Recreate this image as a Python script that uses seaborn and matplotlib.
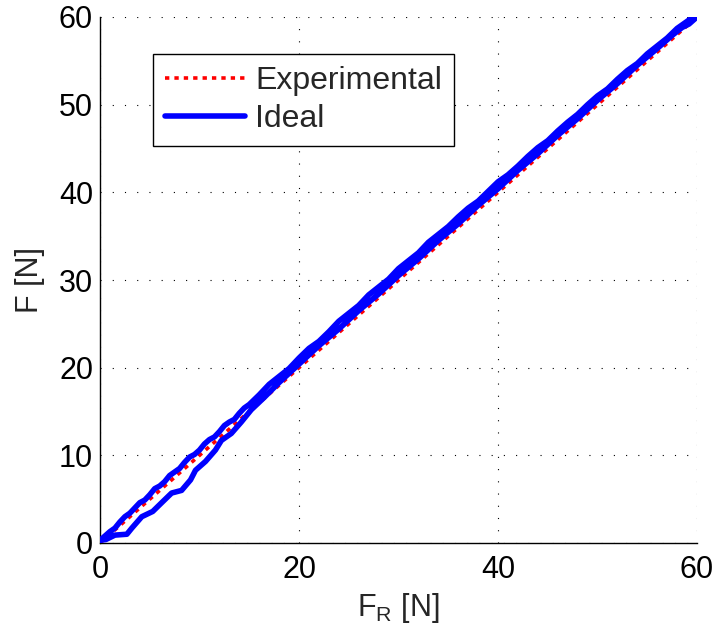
import numpy as np
import pandas as pd
import matplotlib
matplotlib.use("Agg")
import matplotlib.pyplot as plt
import seaborn as sns

# Experimental (reference diagonal)
exp_x = [0, 60]
exp_y = [0, 60]

# Ideal: measured loop (loading branch, then unloading branch)
ideal_x = [0.0, 0.5, 1.0, 1.5, 2.0, 2.5, 3.0, 3.5, 4.0, 4.5, 5.0, 5.5, 6.0, 6.5, 7.0,
           7.5, 8.0, 8.5, 9.0, 9.5, 10.0, 10.5, 11.0, 11.5, 12.0, 12.5, 13.0, 13.5,
           14.0, 14.5, 15.0, 16.0, 17.0, 18.0, 19.0, 20.0, 21.0, 22.0, 23.0, 24.0,
           25.0, 26.0, 27.0, 28.0, 29.0, 30.0, 31.0, 32.0, 33.0, 34.0, 35.0, 36.0,
           37.0, 38.0, 39.0, 40.0, 41.0, 42.0, 43.0, 44.0, 45.0, 46.0, 47.0, 48.0,
           49.0, 50.0, 51.0, 52.0, 53.0, 54.0, 55.0, 56.0, 57.0, 58.0, 59.0, 59.6, 60.0,
           # unloading
           59.8, 59.2, 58.5, 57.5, 56.0, 54.0, 52.0, 50.0, 48.0, 46.0, 44.0, 42.0,
           40.0, 38.0, 36.0, 34.0, 32.0, 30.0, 28.0, 26.0, 24.0, 22.0, 20.0, 18.0,
           16.5, 15.2, 14.2, 13.2, 12.2, 11.6, 10.6, 9.6, 9.1, 8.2, 7.2, 6.2, 5.3,
           4.2, 3.2, 2.7, 1.5, 0.6, 0.0]
ideal_y = [0.3, 0.8, 1.3, 1.7, 2.4, 3.0, 3.4, 4.0, 4.6, 4.9, 5.5, 6.2, 6.5, 7.0, 7.7,
           8.1, 8.5, 9.2, 9.8, 10.1, 10.6, 11.3, 11.8, 12.1, 12.7, 13.4, 13.8, 14.1,
           14.8, 15.4, 15.8, 16.9, 18.1, 19.0, 19.9, 21.1, 22.2, 23.0, 24.1, 25.3,
           26.2, 27.1, 28.3, 29.2, 30.1, 31.3, 32.2, 33.1, 34.3, 35.2, 36.1, 37.2,
           38.2, 39.0, 40.1, 41.2, 42.0, 43.0, 44.1, 45.1, 45.9, 47.0, 48.0, 48.9,
           50.0, 51.0, 51.8, 52.9, 53.9, 54.7, 55.8, 56.7, 57.6, 58.7, 59.5, 60.0, 60.3,
           59.8, 59.2, 58.8, 57.9, 56.4, 54.5, 52.4, 50.5, 48.4, 46.5, 44.4, 42.5,
           40.4, 38.5, 36.4, 34.5, 32.4, 30.5, 28.4, 26.5, 24.4, 22.5, 20.4, 18.3,
           16.6, 15.2, 13.8, 12.5, 11.7, 10.6, 9.3, 8.3, 7.2, 6.0, 5.7, 4.6, 3.6,
           3.0, 1.7, 1.0, 0.9, 0.4, 0.3]

x_ticks = [0, 20, 40, 60]
y_ticks = [0, 10, 20, 30, 40, 50, 60]

sns.set_style("white")
plt.rcParams['font.family'] = ['Liberation Sans', 'DejaVu Sans']
plt.rcParams['mathtext.fontset'] = 'custom'
plt.rcParams['mathtext.rm'] = 'Liberation Sans'

fig = plt.figure(figsize=(7.17, 6.36), dpi=100)
ax = fig.add_axes([100/717, 93/636, 597/717, 526/636])

df_exp = pd.DataFrame({"x": exp_x, "y": exp_y})
df_ideal = pd.DataFrame({"x": ideal_x, "y": ideal_y})

sns.lineplot(data=df_exp, x="x", y="y", ax=ax, color="#ff0000", lw=2.6,
             linestyle=(0, (1.2, 1.4)), label="Experimental", zorder=3)
sns.lineplot(data=df_ideal, x="x", y="y", ax=ax, color="#0000ff", lw=4.0,
             sort=False, estimator=None, label="Ideal", zorder=4)

ax.set_xlim(0, 60)
ax.set_ylim(0, 60)
ax.set_xticks(x_ticks)
ax.set_yticks(y_ticks)
ax.tick_params(direction="in", length=5, width=0.8, labelsize=22,
               colors="black")
ax.tick_params(axis="x", pad=9)
ax.tick_params(axis="y", pad=5)
ax.grid(True, color="black", linestyle=(0, (1, 10)), linewidth=0.8)
for s in ["top", "right"]:
    ax.spines[s].set_visible(False)
for s in ["left", "bottom"]:
    ax.spines[s].set_color("black")
    ax.spines[s].set_linewidth(1.0)

ax.set_xlabel(r"F$_\mathregular{R}$ [N]", fontsize=22, labelpad=4)
ax.set_ylabel("F [N]", fontsize=22, labelpad=10)

leg = ax.legend(loc="upper left", bbox_to_anchor=(53/597, 489/526),
                fontsize=23, handlelength=2.5, handletextpad=0.31,
                borderpad=0.38, borderaxespad=0, labelspacing=0.25,
                fancybox=False, framealpha=1, edgecolor="black")
leg.get_frame().set_linewidth(1.0)

fig.savefig("out.png", dpi=100)
